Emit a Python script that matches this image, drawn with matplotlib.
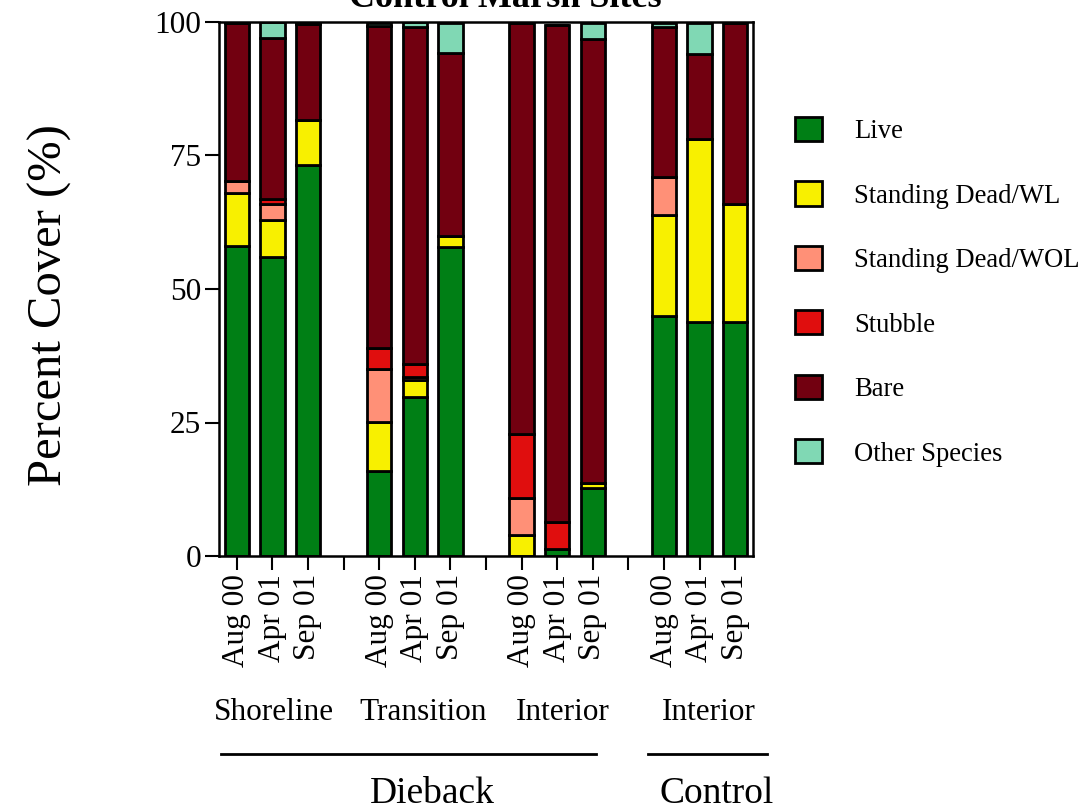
import matplotlib
matplotlib.use('Agg')
from matplotlib import pyplot as plt
import numpy as np

plt.rcParams['font.family'] = ['Liberation Serif', 'DejaVu Serif']

# one bar per site x date, in plotting order
dates = ['Aug 00', 'Apr 01', 'Sep 01']
sites = ['Shoreline', 'Transition', 'Interior', 'Interior']
live = [58, 56, 73.3, 16, 29.8, 57.9, 0, 1.4, 12.8, 45, 43.9, 43.9]
sd_wl = [10, 7, 8.3, 9, 3.1, 2, 3.9, 0, 0.8, 18.9, 34.1, 22]
sd_wol = [2.3, 3, 0, 10, 0.7, 0, 6.9, 0, 0, 7.1, 0, 0]
stubble = [0, 0.8, 0, 4, 2.3, 0, 12.1, 5, 0, 0, 0, 0]
bare = [29.5, 30.2, 18, 60.2, 63.2, 34.3, 77, 93.1, 83.3, 28, 16, 33.9]
other = [0.2, 3, 0.3, 0.7, 0.9, 5.6, 0, 0, 2.9, 0.8, 5.8, 0]

series = [('Live', live, '#007f15'),
          ('Standing Dead/WL', sd_wl, '#f8f000'),
          ('Standing Dead/WOL', sd_wol, '#ff9077'),
          ('Stubble', stubble, '#e00e0e'),
          ('Bare', bare, '#720010'),
          ('Other Species', other, '#80d8b4')]

# groups of 3 bars with an empty slot between groups
pos = np.array([g * 4 + k for g in range(len(sites)) for k in range(len(dates))])

fig = plt.figure(figsize=(10.86, 8.11), dpi=100)
ax = fig.add_axes([219 / 1086, 1 - 556 / 811, (753 - 219) / 1086, (556 - 22) / 811])

bottom = np.zeros(len(pos))
handles = []
for name, vals, col in series:
    vals = np.array(vals, dtype=float)
    b = ax.bar(pos, vals, 0.68, bottom=bottom, color=col, edgecolor='black',
               linewidth=2.0, label=name, zorder=2)
    handles.append(b)
    bottom += vals

ax.set_xlim(-0.5, 14.5)
ax.set_ylim(0, 100)
ax.set_yticks([0, 25, 50, 75, 100])
ax.set_xticks(range(15))
labels = [''] * 15
for p, d in zip(pos, dates * len(sites)):
    labels[p] = d
ax.set_xticklabels(labels, rotation=90, va='top')
ax.tick_params(axis='both', direction='out', length=10, width=1.5, labelsize=22.5, pad=3)
for s in ax.spines.values():
    s.set_linewidth(1.8)

tr = ax.get_xaxis_transform()
site_x = [1.05, 5.22, 9.15, 13.26]
for x, s in zip(site_x, sites):
    ax.text(x, -0.293, s, transform=tr, ha='center', va='center', fontsize=22.5)

ax.plot([-0.44, 10.08], [-0.37, -0.37], transform=tr, color='black', lw=2, clip_on=False)
ax.plot([11.55, 14.9], [-0.37, -0.37], transform=tr, color='black', lw=2, clip_on=False)
ax.text(5.5, -0.445, 'Dieback', transform=tr, ha='center', va='center', fontsize=27)
ax.text(13.48, -0.445, 'Control', transform=tr, ha='center', va='center', fontsize=27)

fig.text(50 / 1086, 1 - 305 / 811, 'Percent Cover (%)', rotation=90,
         ha='center', va='center', fontsize=35)
fig.text(505 / 1086, 1 - 7 / 811, 'Control Marsh Sites', ha='center',
         va='baseline', fontsize=26, weight='bold')

fig.legend(handles=handles, loc='upper left',
           bbox_to_anchor=(795 / 1086, 1 - 117 / 811), frameon=False,
           fontsize=19.2, handlelength=1.01, handleheight=1.01,
           handletextpad=1.2, labelspacing=1.4, borderpad=0, borderaxespad=0)

fig.savefig('out.png', dpi=100)
